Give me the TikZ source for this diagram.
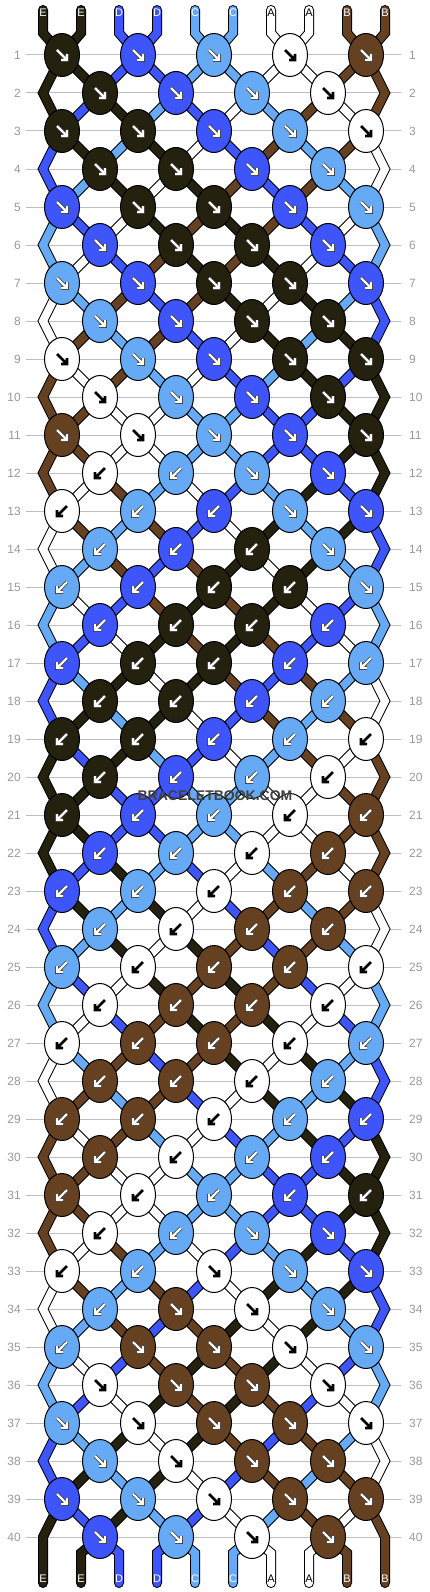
\documentclass[tikz,border=0pt]{standalone}
\usepackage{fontspec}
\setmainfont{Liberation Sans}
\usetikzlibrary{shapes.geometric}

\definecolor{strE}{HTML}{24210F}
\definecolor{strD}{HTML}{3D55FA}
\definecolor{strC}{HTML}{66AAF6}
\definecolor{strA}{HTML}{FFFFFF}
\definecolor{strB}{HTML}{654122}
\definecolor{lineGray}{HTML}{BEBEBE}
\definecolor{numGray}{HTML}{999999}
\definecolor{markGray}{HTML}{404040}

\pgfdeclarelayer{grid}
\pgfdeclarelayer{strands}
\pgfsetlayers{grid,strands,main}

\tikzset{
	knot/.style={draw, ellipse, line width=1pt, minimum width=35pt, minimum height=43pt, inner sep=0pt},
	strandout/.style={line width=10pt, black, line cap=round},
	strandin/.style={line width=8pt, line cap=round},
	rowline/.style={lineGray, line width=1pt},
	rownum/.style={numGray, inner sep=0pt, font=\fontsize{12}{14}\selectfont},
	strlabel/.style={inner sep=0pt, font=\fontsize{11}{13}\selectfont},
	arrowdark/.style={black, line width=2.6pt},
	arrowedge/.style={black!80, line width=3.6pt},
	arrowlight/.style={white, line width=2.2pt}
}

\newcommand{\strand}[2]{
	\draw[strandout] #2;
	\draw[strandin, color=str#1] #2;
}
\newcommand{\knotArrow}[4]{
	\begin{scope}[shift={(#1,#2)}, xscale=#3]
		\if A#4
			\draw[arrowdark] (-5,-5) -- (5,5) (-1,5) -- (5,5) -- (5,-1);
		\else
			\draw[arrowedge] (-5,-5) -- (5,5) (-1,5) -- (5,5) -- (5,-1);
			\draw[arrowlight] (-5,-5) -- (5,5) (-1,5) -- (5,5) -- (5,-1);
		\fi
	\end{scope}
}
\newcommand{\strLabel}[4]{
	\if A#4
		\node[strlabel, black] (#1) at (#2,#3) {#4};
	\else
		\node[strlabel, white] (#1) at (#2,#3) {#4};
	\fi
}

\begin{document}
\begin{tikzpicture}[x=1pt, y=-1pt]
	\useasboundingbox (0,0) rectangle (430,1592);

	% strings at the start
	\foreach \lt [count=\p] in {E,E,D,D,C,C,A,A,B,B}{
		\expandafter\xdef\csname st\p\endcsname{\lt}
	}

	% F = forward knot, B = backward knot
	\foreach \dirs [count=\rr] in {%
		{F,F,F,F,F},{F,F,F,F},%
		{F,F,F,F,F},{F,F,F,F},%
		{F,F,F,F,F},{F,F,F,F},%
		{F,F,F,F,F},{F,F,F,F},%
		{F,F,F,F,F},{F,F,F,F},%
		{F,F,F,F,F},{B,B,F,F},%
		{B,B,B,F,F},{B,B,B,F},%
		{B,B,B,B,F},{B,B,B,B},%
		{B,B,B,B,B},{B,B,B,B},%
		{B,B,B,B,B},{B,B,B,B},%
		{B,B,B,B,B},{B,B,B,B},%
		{B,B,B,B,B},{B,B,B,B},%
		{B,B,B,B,B},{B,B,B,B},%
		{B,B,B,B,B},{B,B,B,B},%
		{B,B,B,B,B},{B,B,B,B},%
		{B,B,B,B,B},{B,B,F,F},%
		{B,B,F,F,F},{B,F,F,F},%
		{B,F,F,F,F},{F,F,F,F},%
		{F,F,F,F,F},{F,F,F,F},%
		{F,F,F,F,F},{F,F,F,F}%
	}{
		\pgfmathsetmacro\yy{55+38*(\rr-1)}
		\begin{pgfonlayer}{grid}
			\draw[rowline] (26,\yy) -- (401,\yy);
		\end{pgfonlayer}
		\node[rownum, anchor=east] (numL-\rr) at (21,\yy) {\rr};
		\node[rownum, anchor=west] (numR-\rr) at (409,\yy) {\rr};

		% strings after this row
		\foreach \p in {1,...,10}{
			\expandafter\xdef\csname nst\p\endcsname{\csname st\p\endcsname}
		}

		% knots
		\foreach \dir [count=\j] in \dirs {
			\ifodd\rr\relax
				\pgfmathtruncatemacro\lft{2*\j-1}
				\pgfmathsetmacro\xx{76*\j-14}
			\else
				\pgfmathtruncatemacro\lft{2*\j}
				\pgfmathsetmacro\xx{76*\j+24}
			\fi
			\pgfmathtruncatemacro\rgt{\lft+1}
			\edef\lc{\csname st\lft\endcsname}
			\edef\rc{\csname st\rgt\endcsname}
			\if F\dir
				\let\kc\lc \def\sx{1}
			\else
				\let\kc\rc \def\sx{-1}
			\fi
			\expandafter\xdef\csname nst\lft\endcsname{\rc}
			\expandafter\xdef\csname nst\rgt\endcsname{\lc}
			\node[knot, fill=str\kc] (k-\rr-\j) at (\xx,\yy) {};
			\knotArrow{\xx}{\yy}{\sx}{\kc}
		}

		% loose ends above row 1
		\ifnum\rr=1
			\foreach \p in {1,...,10}{
				\pgfmathsetmacro\px{43+38*(\p-1)}
				\pgfmathtruncatemacro\hi{ceil(\p/2)}
				\edef\segc{\csname st\p\endcsname}
				\begin{pgfonlayer}{strands}
					\strand{\segc}{(\px,10) -- (\px,33) -- (k-1-\hi.center)}
				\end{pgfonlayer}
				\strLabel{top-\p}{\px}{13}{\segc}
			}
		\fi

		% strands from the row above
		\ifnum\rr>1
			\pgfmathtruncatemacro\prev{\rr-1}
			\begin{pgfonlayer}{strands}
				\foreach \p in {2,...,9}{
					\pgfmathtruncatemacro\hi{ceil(\p/2)}
					\pgfmathtruncatemacro\lo{floor(\p/2)}
					\edef\segc{\csname st\p\endcsname}
					\ifodd\rr\relax
						\strand{\segc}{(k-\prev-\lo.center) -- (k-\rr-\hi.center)}
					\else
						\strand{\segc}{(k-\prev-\hi.center) -- (k-\rr-\lo.center)}
					\fi
				}
			\end{pgfonlayer}
		\fi

		% outer strings round the edges
		\ifodd\rr\relax\ifnum\rr>1
			\pgfmathtruncatemacro\pprev{\rr-2}
			\pgfmathsetmacro\ey{\yy-38}
			\coordinate (eL-\prev) at (43,\ey);
			\coordinate (eR-\prev) at (385,\ey);
			\edef\segL{\csname st1\endcsname}
			\edef\segR{\csname st10\endcsname}
			\begin{pgfonlayer}{strands}
				\strand{\segL}{(k-\pprev-1.center) -- (eL-\prev) -- (k-\rr-1.center)}
				\strand{\segR}{(k-\pprev-5.center) -- (eR-\prev) -- (k-\rr-5.center)}
			\end{pgfonlayer}
		\fi\fi

		\foreach \p in {1,...,10}{
			\expandafter\xdef\csname st\p\endcsname{\csname nst\p\endcsname}
		}
	}

	% loose ends below row 40
	\foreach \p in {1,...,10}{
		\pgfmathsetmacro\px{43+38*(\p-1)}
		\pgfmathtruncatemacro\lo{floor(\p/2)}
		\edef\segc{\csname st\p\endcsname}
		\begin{pgfonlayer}{strands}
			\ifnum\p=1
				\strand{\segc}{(k-39-1.center) -- (\px,1537) -- (\px,1583)}
			\else\ifnum\p=10
				\strand{\segc}{(k-39-5.center) -- (\px,1537) -- (\px,1583)}
			\else
				\strand{\segc}{(k-40-\lo.center) -- (\px,1553) -- (\px,1583)}
			\fi\fi
		\end{pgfonlayer}
		\strLabel{bot-\p}{\px}{1579}{\segc}
	}

	\node[markGray, inner sep=0pt, font=\bfseries\fontsize{14}{16}\selectfont] (mark) at (215,796) {BRACELETBOOK.COM};
\end{tikzpicture}
\end{document}
